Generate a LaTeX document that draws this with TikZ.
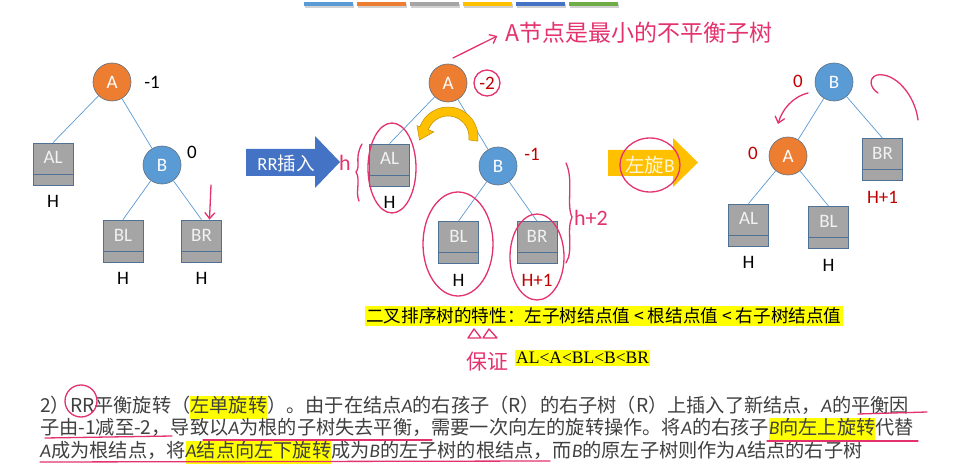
\documentclass[tikz,border=0pt]{standalone}
\usepackage{fontspec}
\setmainfont{Carlito}
\newfontfamily\cjk{Noto Sans CJK SC}
\newfontfamily\serif{Liberation Serif}
\usetikzlibrary{arrows.meta,positioning}

\definecolor{orangeA}{HTML}{ED7D31}
\definecolor{blueB}{HTML}{5B9BD5}
\definecolor{boxgray}{HTML}{A5A5A5}
\definecolor{boxedge}{HTML}{4F7196}
\definecolor{ringedge}{HTML}{5F6F82}
\definecolor{darkred}{HTML}{C00000}
\definecolor{ink}{HTML}{E4326E}
\definecolor{hlyellow}{HTML}{FFFF00}
\definecolor{arrowblue}{HTML}{4472C4}
\definecolor{gold}{HTML}{FFC000}
\definecolor{goldedge}{HTML}{BF8F00}
\definecolor{barsgreen}{HTML}{70AD47}
\definecolor{txtgray}{HTML}{404040}

\newcommand\ia[1]{{\normalfont\itshape #1}}
\newcommand\hl[1]{{\setlength{\fboxsep}{0pt}\colorbox{hlyellow}{\strut #1}}}

\tikzset{
  anode/.style={circle, draw=ringedge, line width=0.6pt, fill=#1, minimum size=38pt,
    inner sep=0pt, text=white, font=\fontsize{19}{22}\selectfont},
  sub/.style={rectangle, draw=boxedge, line width=0.8pt, fill=boxgray,
    minimum width=40pt, minimum height=42pt, inner sep=0pt, text=white!95!black,
    text height=12pt, text depth=12pt, font=\fontsize{19}{22}\selectfont,
    path picture={\draw[boxedge, line width=0.8pt]
      ([yshift=11pt]path picture bounding box.south west) --
      ([yshift=11pt]path picture bounding box.south east);}},
  hgt/.style={font=\fontsize{19}{22}\selectfont, inner sep=1pt},
  bf/.style={font=\fontsize{19}{22}\selectfont, inner sep=1pt},
  link/.style={draw=blueB, line width=0.7pt},
  pen/.style={draw=ink, line width=1.3pt, line cap=round, line join=round},
  hand/.style={text=ink, inner sep=0pt},
  para/.style={font={\cjk\fontsize{19.2}{23}\selectfont}, text=txtgray, inner sep=0pt},
  hlbox/.style={fill=hlyellow, text=black, inner xsep=1pt, inner ysep=2pt,
    font={\cjk\fontsize{17.6}{20}\selectfont}}
}

\begin{document}
\begin{tikzpicture}[x=1pt, y=-1pt]

	\useasboundingbox (0,0) rectangle (962,476);
	\fill[white] (0,0) rectangle (962,476);

	% colour bars on top
	\foreach \c [count=\i from 0] in {blueB,orangeA,boxgray,gold,arrowblue,barsgreen} {
		\fill[black!18] ({305+53*\i},4.5) rectangle ++(49,4);
		\fill[\c] ({304+53*\i},2.5) rectangle ++(49,4);
	}

	% first tree
	\node[anode=orangeA] (a1) at (112, 82)  {A};
	\node[anode=blueB]   (b1) at (162, 165) {B};
	\node[sub] (al1) at (53, 164)  {AL};
	\node[sub] (bl1) at (123, 241) {BL};
	\node[sub] (br1) at (201.5, 241) {BR};
	\node[hgt, below=9pt of al1] (hal1) {H};
	\node[hgt, below=9pt of bl1] (hbl1) {H};
	\node[hgt, below=9pt of br1] (hbr1) {H};
	\node[bf] (bfa1) at (152, 82)  {-1};
	\node[bf] (bfb1) at (192, 152) {0};

	\path[link] (a1) edge (al1.north);
	\path[link] (a1) edge (b1);
	\path[link] (b1) edge (bl1.north);
	\path[link] (b1) edge (br1.north);

	% insert arrow
	\fill[arrowblue] (246,149) -- (315,149) -- (315,136) -- (340,162) -- (315,188) -- (315,176) -- (246,176) -- cycle;
	\node[text=white, font=\fontsize{18.5}{20}\selectfont] (ins) at (286,163) {RR{\cjk 插入}};

	% second tree
	\node[anode=orangeA] (a2) at (448, 83)  {A};
	\node[anode=blueB]   (b2) at (498, 166) {B};
	\node[sub] (al2) at (389.5, 165) {AL};
	\node[sub] (bl2) at (458.5, 242.5) {BL};
	\node[sub] (br2) at (537, 242.5) {BR};
	\node[hgt, below=9pt of al2] (hal2) {H};
	\node[hgt, below=9pt of bl2] (hbl2) {H};
	\node[hgt, text=darkred, below=9pt of br2] (hbr2) {H+1};
	\node[bf, text=darkred] (bfa2) at (487, 83)  {-2};
	\node[bf, text=darkred] (bfb2) at (532, 154) {-1};

	\path[link] (a2) edge (al2.north);
	\path[link] (a2) edge (b2);
	\path[link] (b2) edge (bl2.north);
	\path[link] (b2) edge (br2.north);

	% turning arrow
	\coordinate (rot) at (448,137);
	\filldraw[fill=gold, draw=goldedge, line width=0.5pt]
		([shift={(8:30)}]rot) arc[start angle=8, end angle=-160, radius=30]
		-- ([shift={(-160:33)}]rot) -- ([shift={(-28.5,3)}]rot) -- ([shift={(-160:15)}]rot)
		-- ([shift={(-160:21)}]rot) arc[start angle=-160, end angle=8, radius=21] -- cycle;

	% rotate arrow
	\fill[gold] (608,150) -- (673,150) -- (673,138) -- (698,162.5) -- (673,187) -- (673,176) -- (608,176) -- cycle;
	\node[text=white!85!gold, font={\cjk\fontsize{19.5}{22}\selectfont}] (rotl) at (650,165) {左旋{\normalfont B}};

	% third tree
	\node[anode=blueB]   (b3) at (834, 82)  {B};
	\node[anode=orangeA] (a3) at (788, 156) {A};
	\node[sub] (br3) at (882.5, 159.5) {BR};
	\node[sub] (al3) at (748.5, 225) {AL};
	\node[sub] (bl3) at (828.5, 227.5) {BL};
	\node[hgt, text=darkred, below=9pt of br3] (hbr3) {H+1};
	\node[hgt, below=9pt of al3] (hal3) {H};
	\node[hgt, below=9pt of bl3] (hbl3) {H};
	\node[bf, text=darkred] (bfb3) at (798, 81)  {0};
	\node[bf, text=darkred] (bfa3) at (753, 153) {0};

	\path[link] (b3) edge (a3);
	\path[link] (b3) edge (br3.north);
	\path[link] (a3) edge (al3.north);
	\path[link] (a3) edge (bl3.north);

	% BST property
	\node[hlbox, anchor=west] (prop) at (365,316) {二叉排序树的特性：左子树结点值 < 根结点值 < 右子树结点值};
	\node[hlbox, font={\serif\fontsize{17.5}{20}\selectfont}, anchor=west] (order) at (515,358) {AL<A<BL<B<BR};

	% explanation
	\node[para, anchor=base west] (l1) at (40,412) {2）RR平衡旋转（\hl{左单旋转}）。由于在结点\ia{A}的右孩子（R）的右子树（R）上插入了新结点，\ia{A}的平衡因};
	\node[para, anchor=base west] (l2) at (40,434.5) {子由-1减至-2，导致以\ia{A}为根的子树失去平衡，需要一次向左的旋转操作。将\ia{A}的右孩子\hl{\ia{B}向左上旋转}代替};
	\node[para, anchor=base west] (l3) at (40,457) {\ia{A}成为根结点，将\hl{\ia{A}结点向左下旋转}成为\ia{B}的左子树的根结点，而\ia{B}的原左子树则作为\ia{A}结点的右子树};

	% pen marks
	\coordinate (t0) at (211,185);
	\draw[pen, -{Straight Barb[length=6pt, width=10pt]}] (t0) -- ([xshift=8pt]br1.north);

	\node[hand, font={\cjk\fontsize{23}{26}\selectfont}] (msg) at (639,33) {A节点是最小的不平衡子树};
	\coordinate (p0) at (453,58);
	\draw[pen, -{Straight Barb[length=6pt, width=10pt]}] (p0) -- ([shift={(-8pt,-3pt)}]msg.west);
	\draw[pen] (bfa2) circle[radius=13];
	\draw[pen] (392,168) ellipse[x radius=24, y radius=45];
	\draw[pen] (458,244) ellipse[x radius=35, y radius=52];
	\draw[pen] (537,257) ellipse[x radius=27, y radius=43];
	\node[hand, font=\fontsize{22}{24}\selectfont] (hl) at (345,163) {h};
	\draw[pen] (362,144) .. controls (354,158) and (361,166) .. (356,172) .. controls (361,180) and (355,192) .. (359,201);
	\draw[pen] (566,163) .. controls (574,180) and (566,205) .. (572,217) .. controls (566,230) and (574,250) .. (566,263);
	\node[hand, font=\fontsize{22}{24}\selectfont] (hr) at (591,218) {h+2};
	\draw[pen] (rotl) ellipse[x radius=30, y radius=27];

	\coordinate (q0) at (808,93);
	\coordinate (q1) at (778,124);
	\draw[pen, -{Straight Barb[length=6pt, width=10pt]}] (q0) .. controls (792,97) and (782,110) .. (q1);
	\draw[pen] (918,120) .. controls (915,95) and (895,72) .. (877,75) .. controls (868,78) and (870,88) .. (878,93);

	\draw[pen] (468,338) -- (474,329) -- (481,338) -- cycle;
	\draw[pen] (483,338) -- (489,329) -- (497,338) -- cycle;
	\node[hand, font={\cjk\fontsize{21}{24}\selectfont}] (bz) at (487,362) {保证};

	\draw[pen] (81,401) ellipse[x radius=16, y radius=16];
	\draw[pen] (858,414) -- (927,412);
	\draw[pen] (45,438) -- (172,436);
	\draw[pen] (203,440) -- (432,440);
	\draw[pen] (767,441) -- (918,441);
	\draw[pen] (40,462) -- (550,461);

\end{tikzpicture}
\end{document}
